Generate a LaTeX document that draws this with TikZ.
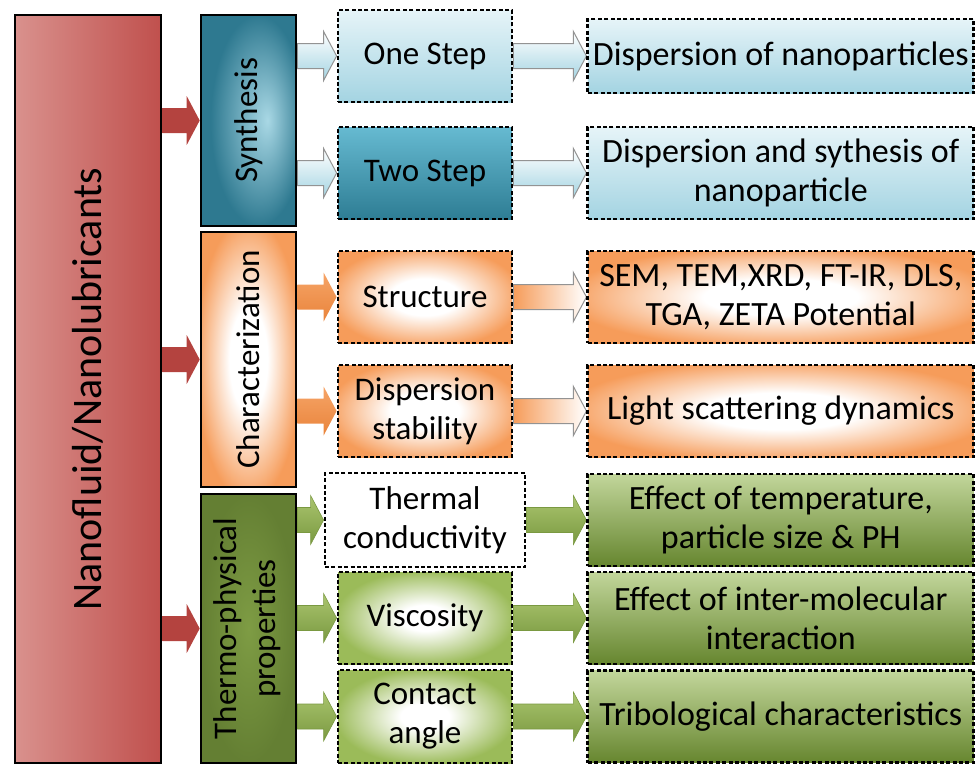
\documentclass[tikz,border=0pt]{standalone}
\usepackage{fontspec}
\setmainfont{Carlito}
\usepackage{graphicx}
\usetikzlibrary{positioning,calc,backgrounds}

\definecolor{redL}{HTML}{D9918D}
\definecolor{redD}{HTML}{C0504D}
\definecolor{redA}{HTML}{B4433F}
\definecolor{redM}{HTML}{CF6A66}
\definecolor{tealL}{HTML}{A9D8E5}
\definecolor{tealD}{HTML}{2E7990}
\definecolor{twoT}{HTML}{66BAD1}
\definecolor{twoB}{HTML}{2E7D94}
\definecolor{skyT}{HTML}{E6F4F8}
\definecolor{skyB}{HTML}{A4D4E2}
\definecolor{orangeF}{HTML}{F69C5A}
\definecolor{orangeA}{HTML}{F6A467}
\definecolor{orangeB}{HTML}{E9843B}
\definecolor{oliveL}{HTML}{7E9C44}
\definecolor{oliveD}{HTML}{647F33}
\definecolor{greenF}{HTML}{9BBB59}
\definecolor{greenT}{HTML}{C2D69B}
\definecolor{greenB}{HTML}{66862F}
\definecolor{greenA}{HTML}{AAC56E}
\definecolor{greenC}{HTML}{7A9941}

\pgfdeclareradialshading{tealglow}{\pgfpoint{10bp}{0bp}}{color(0bp)=(tealL); color(25bp)=(tealD); color(50bp)=(tealD)}
\pgfdeclareradialshading{orangeglow}{\pgfpointorigin}{color(0bp)=(white); color(10bp)=(white); color(28bp)=(orangeF); color(50bp)=(orangeF)}
\pgfdeclareradialshading{greenglow}{\pgfpointorigin}{color(0bp)=(white); color(7bp)=(white); color(26bp)=(greenF); color(50bp)=(greenF)}
\pgfdeclareradialshading{oliveglow}{\pgfpointorigin}{color(0bp)=(oliveL); color(25bp)=(oliveD); color(50bp)=(oliveD)}

\begin{document}
\begin{tikzpicture}[
    x=1pt, y=-1pt,
    font=\fontsize{33}{39}\selectfont,
    groupbox/.style={draw, line width=2.6pt, minimum width=95pt, align=center, inner sep=0pt},
    midbox/.style={draw, dash pattern=on 4pt off 2.4pt, line width=2.8pt, minimum width=174pt, minimum height=92pt, align=center, inner sep=2pt},
    outbox/.style={midbox, minimum width=386pt, font=\fontsize{34}{39}\selectfont},
    blockarrow/.style={to path={
      ($(\tikztostart)+(0,-12.5)$) -- ($(\tikztotarget)+(-13,-12.5)$) -- ($(\tikztotarget)+(-13,-24.5)$)
      -- (\tikztotarget) -- ($(\tikztotarget)+(-13,24.5)$) -- ($(\tikztotarget)+(-13,12.5)$)
      -- ($(\tikztostart)+(0,12.5)$) -- cycle}},
    redarrow/.style={blockarrow, top color=redA, middle color=redM, bottom color=redA},
    bluearrow/.style={blockarrow, draw=gray!85, line width=1pt, top color=white, bottom color=skyB},
    orangearrow/.style={blockarrow, top color=orangeA, bottom color=orangeB},
    lightarrow/.style={blockarrow, draw=gray!85, line width=1pt, left color=orangeF, right color=white},
    greenarrow/.style={blockarrow, draw=greenC, line width=0.6pt, top color=greenA, bottom color=greenC}
]
\useasboundingbox (0,0) rectangle (976,766);

% left column
\node[groupbox, minimum width=146pt, minimum height=748pt, left color=redL, right color=redD] (fluid) at (88,389)
  {\fontsize{42}{50}\selectfont\rotatebox{90}{Nanofluid/Nanolubricants}};
\node[groupbox, minimum height=211pt, shade, shading=tealglow] (syn) at (248.5,120.5) {\rotatebox{90}{Synthesis}};
\node[groupbox, minimum height=255pt, shade, shading=orangeglow] (char) at (248.5,359.5) {\rotatebox{90}{Characterization}};
\node[groupbox, minimum height=269pt, shade, shading=oliveglow] (thermo) at (248.5,628.5)
  {\rotatebox{90}{\begin{tabular}{@{}c@{}}Thermo-physical\\properties\end{tabular}}};

% middle column
\node[midbox, top color=skyT, bottom color=skyB] (one) at (425,56) {One Step};
\node[midbox, top color=twoT, bottom color=twoB] (two) at (425,173) {Two Step};
\node[midbox, shade, shading=orangeglow] (struct) at (425,297) {Structure};
\node[midbox, shade, shading=orangeglow] (disp) at (425,411) {Dispersion\\stability};
\node[midbox, fill=white, minimum width=200pt, minimum height=94pt] (therm) at (425,520) {Thermal\\conductivity};
\node[midbox, shade, shading=greenglow] (visc) at (425,618) {Viscosity};
\node[midbox, shade, shading=greenglow, minimum height=93pt] (contact) at (425,716.5) {Contact\\angle};

% right column
\node[outbox, minimum height=74pt, top color=skyT, bottom color=skyB, right=73pt of one] (dnp) {Dispersion of nanoparticles};
\node[outbox, top color=skyT, bottom color=skyB, right=73pt of two] (dsn) {Dispersion and sythesis of\\nanoparticle};
\node[outbox, shade, shading=orangeglow, right=73pt of struct] (sem) {SEM, TEM,XRD, FT-IR, DLS,\\TGA, ZETA Potential};
\node[outbox, shade, shading=orangeglow, right=73pt of disp] (lsd) {Light scattering dynamics};
\node[outbox, top color=greenT, bottom color=greenB, right=60pt of therm] (temp) {Effect of temperature,\\particle size \& PH};
\node[outbox, top color=greenT, bottom color=greenB, right=73pt of visc] (inter) {Effect of inter-molecular\\interaction};
\node[outbox, top color=greenT, bottom color=greenB, right=73pt of contact] (trib) {Tribological characteristics};

% arrows
\begin{scope}[on background layer]
\foreach \b in {syn, char, thermo}
  \path[redarrow] (fluid.east |- \b.west) to (\b.west);
\foreach \b in {one, two}
  \path[bluearrow] (syn.east |- \b.west) to (\b.west);
\path[bluearrow] (one.east) to (dnp.west);
\path[bluearrow] (two.east) to (dsn.west);
\foreach \b in {struct, disp}
  \path[orangearrow] (char.east |- \b.west) to (\b.west);
\path[lightarrow] (struct.east) to (sem.west);
\path[lightarrow] (disp.east) to (lsd.west);
\foreach \b in {therm, visc, contact}
  \path[greenarrow] (thermo.east |- \b.west) to (\b.west);
\path[greenarrow] (therm.east) to (temp.west);
\path[greenarrow] (visc.east) to (inter.west);
\path[greenarrow] (contact.east) to (trib.west);
\end{scope}
\end{tikzpicture}
\end{document}
